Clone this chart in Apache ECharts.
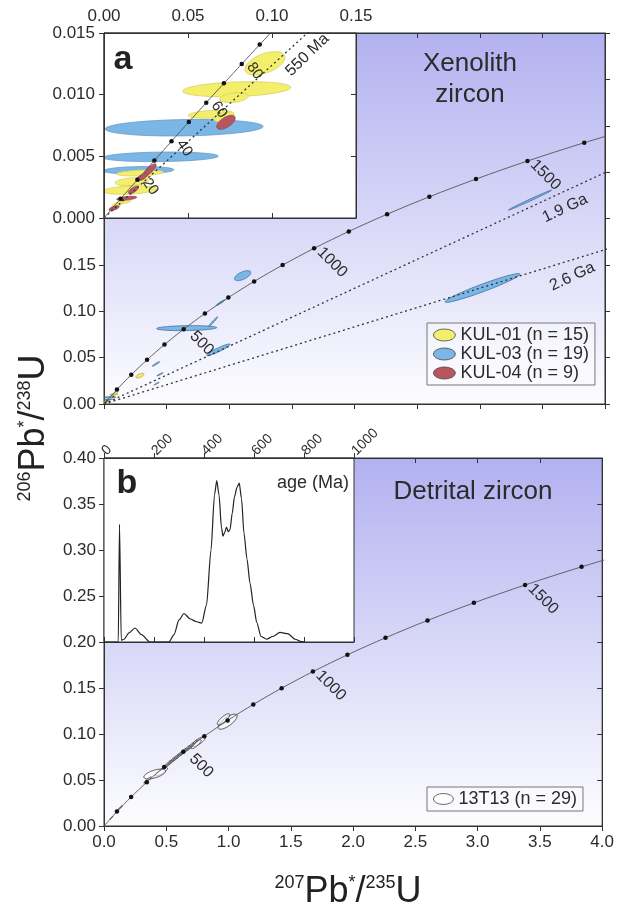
<!doctype html>
<html>
<head>
<meta charset="UTF-8">
<title>U-Pb concordia</title>
<script src="https://cdn.jsdelivr.net/npm/echarts@6.0.0/dist/echarts.min.js"></script>
<style>
	html, body { margin: 0; padding: 0; background: #fff; }
	#chart { width: 617px; height: 909px; }
</style>
</head>
<body>
<div id="chart"></div>
<script>
var FONT = '"Liberation Sans", Arial, sans-serif';
var TXT = '#2b2b2b';

// concordia, 100 Ma steps (main panels)
var concAge = [0, 100, 200, 300, 400, 500, 600, 700, 800, 900, 1000, 1100, 1200, 1300, 1400, 1500, 1600, 1700];
var concX = [0, 0.1035, 0.2177, 0.3437, 0.4828, 0.6363, 0.8056, 0.9925, 1.1987, 1.4263, 1.6774, 1.9545, 2.2603, 2.5977, 2.9701, 3.3810, 3.8344, 4.3348];
var concY = [0, 0.01563, 0.03151, 0.04764, 0.06402, 0.08065, 0.09754, 0.11470, 0.13213, 0.14983, 0.16780, 0.18606, 0.20460, 0.22343, 0.24256, 0.26198, 0.28171, 0.30175];
var concLabels = [500, 1000, 1500];

// concordia, 10 Ma steps (inset a)
var insAge = [0, 10, 20, 30, 40, 50, 60, 70, 80, 90, 100, 110];
var insX = [0, 0.00990, 0.01989, 0.02999, 0.04018, 0.05048, 0.06087, 0.07137, 0.08198, 0.09268, 0.10350, 0.11442];
var insY = [0, 0.001553, 0.003107, 0.004664, 0.006224, 0.007786, 0.009351, 0.010918, 0.012487, 0.014059, 0.015633, 0.017210];
var insLabels = [20, 40, 60, 80];

// reference chords from the origin to the concordia point
var disc550 = [0.7189, 0.08906];
var disc1900 = [5.4962, 0.34277];
var disc2600 = [11.9437, 0.49678];
var discText = ['550 Ma', '1.9 Ga', '2.6 Ga'];
var discTextAt = [[0.1210, 0.01322], [3.681, 0.2110], [3.739, 0.1373]];

// error ellipses: [207Pb/235U, 206Pb/238U, half width, half height, rho]
var kul01 = [
	[0.0958, 0.01254, 0.0119, 0.00095, 0.5],
	[0.0790, 0.01044, 0.0322, 0.00061, 0.25],
	[0.0774, 0.00976, 0.0085, 0.00040, 0.3],
	[0.0635, 0.00841, 0.0134, 0.00032, 0.3],
	[0.0715, 0.00820, 0.0060, 0.00040, 0.5],
	[0.0214, 0.00365, 0.0139, 0.00024, 0.3],
	[0.0165, 0.00295, 0.0099, 0.00032, 0.3],
	[0.0155, 0.00227, 0.0159, 0.00035, 0.3],
	[0.0245, 0.00340, 0.0040, 0.00030, 0.5],
	[0.0125, 0.00132, 0.0036, 0.00015, 0.5],
	[0.0080, 0.00110, 0.0030, 0.00020, 0.5],
	[0.287, 0.0306, 0.032, 0.0025, 0.6]
];
var kul03 = [
	[0.0477, 0.00732, 0.0470, 0.00067, 0.15],
	[0.0338, 0.00496, 0.0342, 0.00039, 0.15],
	[0.0206, 0.00387, 0.0210, 0.00030, 0.15],
	[0.0173, 0.00268, 0.0030, 0.00030, 0.5],
	[1.107, 0.1384, 0.065, 0.0054, 0.6],
	[0.660, 0.0818, 0.240, 0.0027, 0.2],
	[0.872, 0.0888, 0.035, 0.0052, 0.97],
	[0.913, 0.0584, 0.093, 0.0063, 0.93],
	[0.930, 0.1092, 0.035, 0.0030, 0.95],
	[3.401, 0.2198, 0.173, 0.0108, 0.995],
	[3.022, 0.1251, 0.299, 0.0155, 0.96],
	[0.415, 0.0432, 0.030, 0.0025, 0.95],
	[0.447, 0.0320, 0.025, 0.0018, 0.95],
	[0.420, 0.0220, 0.020, 0.0015, 0.95]
];
var kul04 = [
	[0.0726, 0.00776, 0.0055, 0.00057, 0.6],
	[0.0274, 0.00390, 0.0036, 0.00049, 0.8],
	[0.0225, 0.00330, 0.0035, 0.00030, 0.7],
	[0.0175, 0.00227, 0.0030, 0.00030, 0.7],
	[0.0135, 0.00160, 0.0060, 0.00016, 0.5],
	[0.0060, 0.00080, 0.0030, 0.00020, 0.6]
];
var t13 = [
	[0.993, 0.1134, 0.076, 0.0082, 0.75],
	[0.960, 0.1160, 0.050, 0.0060, 0.8],
	[0.758, 0.0916, 0.056, 0.0055, 0.8],
	[0.740, 0.0890, 0.040, 0.0050, 0.85],
	[0.710, 0.0880, 0.040, 0.0055, 0.96],
	[0.680, 0.0850, 0.040, 0.0055, 0.96],
	[0.650, 0.0820, 0.040, 0.0055, 0.96],
	[0.620, 0.0789, 0.040, 0.0055, 0.96],
	[0.590, 0.0756, 0.040, 0.0055, 0.96],
	[0.560, 0.0724, 0.040, 0.0055, 0.96],
	[0.530, 0.0691, 0.040, 0.0055, 0.96],
	[0.500, 0.0659, 0.040, 0.0055, 0.96],
	[0.460, 0.0590, 0.050, 0.0045, 0.8],
	[0.407, 0.0565, 0.087, 0.0054, 0.6],
	[0.350, 0.0500, 0.030, 0.0035, 0.95],
	[0.128, 0.0196, 0.020, 0.0025, 0.95],
	[0.060, 0.0090, 0.012, 0.0015, 0.95]
];
var sampleNames = ['KUL-01 (n = 15)', 'KUL-03 (n = 19)', 'KUL-04 (n = 9)', '13T13 (n = 29)'];

// inset b: probability density vs age (Ma), relative units
var pdfAge = [0, 50, 57, 62, 69, 80, 100, 124, 150, 184, 260, 280, 300, 320, 345, 370, 391, 410, 428, 442, 451, 460, 470, 476, 484, 490, 497, 504, 513, 522, 532, 541, 550, 560, 572, 584, 598, 611, 628, 650, 675, 704, 735, 765, 790, 800];
var pdfVal = [0, 0, 0, 0.64, 0.01, 0.015, 0.05, 0.076, 0.04, 0, 0, 0.04, 0.12, 0.155, 0.125, 0.11, 0.103, 0.2, 0.5, 0.8, 0.877, 0.8, 0.62, 0.575, 0.6, 0.625, 0.6, 0.61, 0.7, 0.79, 0.84, 0.863, 0.78, 0.59, 0.45, 0.32, 0.2, 0.106, 0.03, 0.015, 0.03, 0.052, 0.045, 0.015, 0.002, 0];

var yTopLabels = [0, 0.05, 0.10, 0.15];

var YEL = '#f3ee6b', BLU = '#7ab6e6', RED = '#b9555f';
var ELL = 'path://M0,6 A11,6 0 1,1 22,6 A11,6 0 1,1 0,6 Z';

function pairs(xs, ys) {
	return xs.map(function(x, i) {
		// no dot at the origin
		return i === 0 ? {value: [x, ys[i]], symbolSize: 0} : [x, ys[i]];
	});
}

function bg() {
	return {
		type: 'linear', x: 0, y: 0, x2: 0, y2: 1,
		colorStops: [{offset: 0, color: '#b2b1f0'}, {offset: 1, color: '#fdfdff'}]
	};
}

function ax(grid, pos, min, max, step, inside, fmt, extra) {
	var a = {
		gridIndex: grid, position: pos, type: 'value', min: min, max: max, interval: step,
		axisLine: {show: true, onZero: false, lineStyle: {color: '#333', width: 1}},
		axisTick: {show: true, inside: inside, length: 5, lineStyle: {color: '#333', width: 1}},
		axisLabel: {show: !!fmt, formatter: fmt, fontSize: 17, color: TXT, fontFamily: FONT, margin: 8},
		splitLine: {show: false}
	};
	for (var k in extra) a[k] = extra[k];
	return a;
}

function fixed(n) {
	return function(v) { return v.toFixed(n); };
}

function ellipses(name, data, xi, yi, fill, stroke, z) {
	return {
		name: name, type: 'custom', xAxisIndex: xi, yAxisIndex: yi, z: z, clip: true, silent: true,
		itemStyle: {color: fill},
		encode: {x: 0, y: 1},
		data: data,
		renderItem: function(params, api) {
			var cx = api.value(0), cy = api.value(1), sx = api.value(2), sy = api.value(3), r = api.value(4);
			var k = Math.sqrt(1 - r * r), pts = [];
			for (var i = 0; i < 64; i++) {
				var t = i / 64 * Math.PI * 2;
				pts.push(api.coord([cx + sx * Math.cos(t), cy + sy * (r * Math.cos(t) + k * Math.sin(t))]));
			}
			return {type: 'polygon', shape: {points: pts}, style: {fill: fill, stroke: stroke, lineWidth: 0.8}};
		}
	};
}

// text anchored at a data point, shifted by dx/dy pixels and rotated
function labels(points, texts, xi, yi, size, rot, dx, dy, z) {
	return {
		type: 'custom', xAxisIndex: xi, yAxisIndex: yi, z: z, clip: false, silent: true,
		encode: {x: 0, y: 1},
		data: points,
		renderItem: function(params, api) {
			var p = api.coord([api.value(0), api.value(1)]);
			return {
				type: 'text', x: p[0] + dx, y: p[1] + dy, rotation: rot * Math.PI / 180,
				style: {text: texts[params.dataIndex], fontSize: size, fontFamily: FONT, fill: TXT, align: 'center', verticalAlign: 'middle'}
			};
		}
	};
}

function ageMarks(ages, all, xs, ys) {
	return ages.map(function(a) { var i = all.indexOf(a); return [xs[i], ys[i]]; });
}

function concordia(data, xi, yi, z) {
	return {
		type: 'line', xAxisIndex: xi, yAxisIndex: yi, z: z, silent: true, smooth: 0.3,
		data: data, symbol: 'circle', symbolSize: 4.5, showSymbol: true,
		itemStyle: {color: '#111'}, lineStyle: {color: '#555', width: 0.9}
	};
}

function chord(end, xi, yi, z) {
	return {
		type: 'line', xAxisIndex: xi, yAxisIndex: yi, z: z, silent: true,
		data: [[0, 0], end], symbol: 'none',
		lineStyle: {color: '#333', width: 1.3, type: [2, 3]}
	};
}

var rich = {
	s: {fontSize: 18, fontFamily: FONT, fill: '#222', verticalAlign: 'top'},
	b: {fontSize: 36, fontFamily: FONT, fill: '#222'}
};

var option = {
	animation: false,
	grid: [
		{left: 104, top: 33, width: 501, height: 371, show: true, backgroundColor: bg(), borderColor: '#333', borderWidth: 1},
		{left: 104, top: 33, width: 252, height: 185, show: true, backgroundColor: '#fff', borderColor: '#333', borderWidth: 1, z: 5},
		{left: 104, top: 458, width: 501, height: 368, show: true, backgroundColor: bg(), borderColor: '#333', borderWidth: 1},
		{left: 104, top: 458, width: 250, height: 184, show: true, backgroundColor: '#fff', borderColor: '#333', borderWidth: 1, z: 5}
	],
	xAxis: [
		ax(0, 'bottom', 0, 4, 0.5, false, null),
		ax(0, 'top', 0, 4, 0.5, true, null),
		ax(1, 'top', 0, 0.15, 0.05, true, fixed(2), {z: 6}),
		ax(1, 'bottom', 0, 0.15, 0.05, true, null, {z: 6}),
		ax(2, 'bottom', 0, 4, 0.5, false, fixed(1)),
		ax(2, 'top', 0, 4, 0.5, true, null),
		ax(3, 'top', 0, 1000, 200, false, fixed(0), {z: 6}),
		ax(3, 'bottom', 0, 1000, 200, true, null, {z: 6})
	],
	yAxis: [
		ax(0, 'left', 0, 0.4, 0.05, false, fixed(2)),
		ax(0, 'right', 0, 0.4, 0.05, false, null),
		ax(1, 'left', 0, 0.015, 0.005, false, fixed(3), {z: 6}),
		ax(1, 'right', 0, 0.015, 0.005, true, null, {z: 6}),
		ax(2, 'left', 0, 0.4, 0.05, false, fixed(2)),
		ax(2, 'right', 0, 0.4, 0.05, true, null),
		{gridIndex: 3, type: 'value', min: 0, max: 1, show: false}
	],
	legend: [{
		left: 427, top: 323, orient: 'vertical', itemGap: 1, itemWidth: 22, itemHeight: 12,
		padding: [3, 6, 3, 6], borderColor: '#777', borderWidth: 1, backgroundColor: 'rgba(255,255,255,0.35)',
		selectedMode: false,
		textStyle: {fontSize: 18, color: TXT, fontFamily: FONT},
		data: [
			{name: sampleNames[0], icon: ELL, itemStyle: {color: YEL, borderColor: '#444', borderWidth: 0.8}},
			{name: sampleNames[1], icon: ELL, itemStyle: {color: BLU, borderColor: '#444', borderWidth: 0.8}},
			{name: sampleNames[2], icon: ELL, itemStyle: {color: RED, borderColor: '#444', borderWidth: 0.8}}
		]
	}, {
		left: 427, top: 787, orient: 'vertical', itemWidth: 20, itemHeight: 11,
		padding: [3, 6, 3, 6], borderColor: '#777', borderWidth: 1, backgroundColor: 'rgba(255,255,255,0.35)',
		selectedMode: false,
		textStyle: {fontSize: 18, color: TXT, fontFamily: FONT},
		data: [{name: sampleNames[3], icon: ELL, itemStyle: {color: '#fff', borderColor: '#444', borderWidth: 0.8}}]
	}],
	graphic: [
		{type: 'text', x: 470, y: 79, z: 10, style: {text: 'Xenolith\nzircon', fontSize: 26, lineHeight: 31, fontFamily: FONT, fill: TXT, align: 'center', verticalAlign: 'middle'}},
		{type: 'text', x: 473, y: 492, z: 10, style: {text: 'Detrital zircon', fontSize: 26, fontFamily: FONT, fill: TXT, align: 'center', verticalAlign: 'middle'}},
		{type: 'text', x: 123, y: 60, z: 10, style: {text: 'a', fontSize: 34, fontWeight: 'bold', fontFamily: FONT, fill: '#222', align: 'center', verticalAlign: 'middle'}},
		{type: 'text', x: 127, y: 484, z: 10, style: {text: 'b', fontSize: 34, fontWeight: 'bold', fontFamily: FONT, fill: '#222', align: 'center', verticalAlign: 'middle'}},
		{type: 'text', x: 313, y: 483, z: 10, style: {text: 'age (Ma)', fontSize: 18, fontFamily: FONT, fill: TXT, align: 'center', verticalAlign: 'middle'}},
		{type: 'text', x: 34, y: 428, z: 10, rotation: Math.PI / 2, style: {text: '{s|206}{b|Pb}{s|*}{b|/}{s|238}{b|U}', rich: rich, align: 'center', verticalAlign: 'middle'}},
		{type: 'text', x: 348, y: 892, z: 10, style: {text: '{s|207}{b|Pb}{s|*}{b|/}{s|235}{b|U}', rich: rich, align: 'center', verticalAlign: 'middle'}}
	],
	series: [
		// top panel
		ellipses(sampleNames[1], kul03, 0, 0, BLU, '#44709a', 2),
		ellipses(sampleNames[0], kul01, 0, 0, YEL, '#aaa24a', 2),
		ellipses(sampleNames[2], kul04, 0, 0, RED, '#7a3a40', 2),
		chord(disc1900, 0, 0, 3),
		chord(disc2600, 0, 0, 3),
		concordia(pairs(concX, concY), 0, 0, 3),
		labels(ageMarks(concLabels, concAge, concX, concY), concLabels.map(String), 0, 0, 16, -45, 18, 14, 4),
		labels(discTextAt.slice(1), discText.slice(1), 0, 0, 16, 25, 0, 0, 4),
		// inset a
		ellipses(sampleNames[1], kul03, 2, 2, BLU, '#6a9cc4', 6),
		ellipses(sampleNames[0], kul01, 2, 2, YEL, '#d8d160', 6),
		ellipses(sampleNames[2], kul04, 2, 2, RED, '#8a4a50', 6),
		chord(disc550, 2, 2, 7),
		concordia(pairs(insX, insY), 2, 2, 7),
		labels(ageMarks(insLabels, insAge, insX, insY), insLabels.map(String), 2, 2, 15, -55, 13, 7, 8),
		labels(discTextAt.slice(0, 1), discText.slice(0, 1), 2, 2, 16, 44, 0, 0, 8),
		// bottom panel
		ellipses(sampleNames[3], t13, 4, 4, 'rgba(255,255,255,0.55)', '#2e2e2e', 2),
		concordia(pairs(concX, concY), 4, 4, 3),
		labels(ageMarks(concLabels, concAge, concX, concY), concLabels.map(String), 4, 4, 16, -45, 18, 14, 4),
		// inset b
		{
			type: 'line', xAxisIndex: 6, yAxisIndex: 6, z: 7, silent: true, smooth: 0.25, smoothMonotone: 'x',
			data: pairs(pdfAge, pdfVal), symbol: 'none', lineStyle: {color: '#222', width: 1.2}
		}
	]
};

// main top-panel y labels only below the inset
option.yAxis[0].axisLabel.customValues = yTopLabels;
option.yAxis[0].axisTick.customValues = yTopLabels;
// age labels of inset b start at the tick and climb to the right
var ageLab = option.xAxis[6].axisLabel;
ageLab.rotate = -45;
ageLab.fontSize = 14;
ageLab.margin = 5;
ageLab.align = 'left';
ageLab.verticalAlign = 'middle';
option.yAxis[2].axisLabel.margin = 9;

var chart = echarts.init(document.getElementById('chart'));
chart.setOption(option);
</script>
</body>
</html>
